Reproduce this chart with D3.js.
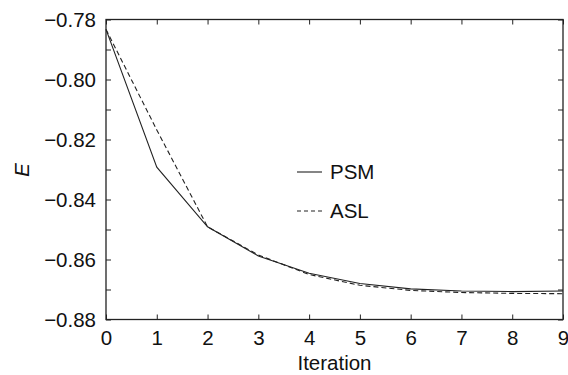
<!DOCTYPE html>
<html><head><meta charset="utf-8">
<script src="https://cdn.jsdelivr.net/npm/d3@7"></script>
<style>body{margin:0;background:#fff}svg{display:block}</style>
</head><body>
<svg id="c" width="568" height="375"></svg>
<script>
const iterations = [0,1,2,3,4,5,6,7,8,9];
const psm = [-0.7833,-0.8292,-0.8491,-0.8588,-0.8646,-0.8680,-0.8698,-0.8705,-0.8707,-0.8705];
const asl = [-0.7833,-0.8168,-0.8491,-0.8585,-0.8650,-0.8686,-0.8703,-0.8710,-0.8713,-0.8714];
const yTicks = [-0.88,-0.87,-0.86,-0.85,-0.84,-0.83,-0.82,-0.81,-0.80,-0.79,-0.78];
const yLabels = [-0.88,-0.86,-0.84,-0.82,-0.80,-0.78];
const seriesNames = ["PSM","ASL"];

const svg = d3.select("#c");
const m = {l:106,t:19.5,r:563,b:319.5};
const x = d3.scaleLinear().domain([0,9]).range([m.l,m.r]);
const y = d3.scaleLinear().domain([-0.88,-0.78]).range([m.b,m.t]);
const font = "'Liberation Sans', Arial, Helvetica, sans-serif";
const fs = 20.5;
const fmt = d => (d<0?"\u2212":"") + Math.abs(d).toFixed(2);

const tl = 5;
const axB = d3.axisBottom(x).tickValues(iterations).tickSize(-tl).tickPadding(11).tickFormat(d3.format("d"));
const axT = d3.axisTop(x).tickValues(iterations).tickSize(-tl).tickFormat("");
const axL = d3.axisLeft(y).tickValues(yTicks).tickSize(-tl).tickPadding(10)
  .tickFormat(d => yLabels.some(v=>Math.abs(v-d)<1e-9) ? fmt(d) : "");
const axR = d3.axisRight(y).tickValues(yTicks).tickSize(-tl).tickFormat("");

function style(g){
  g.select(".domain").remove();
  g.selectAll("line").attr("stroke","#222").attr("stroke-width",1);
  g.selectAll("text").attr("font-family",font).attr("font-size",fs).attr("fill","#111");
}
svg.append("g").attr("transform",`translate(0,${m.b})`).call(axB).call(style);
svg.append("g").attr("transform",`translate(0,${m.t})`).call(axT).call(style);
svg.append("g").attr("transform",`translate(${m.l},0)`).call(axL).call(style);
svg.append("g").attr("transform",`translate(${m.r},0)`).call(axR).call(style);

svg.append("rect").attr("x",m.l).attr("y",m.t).attr("width",m.r-m.l).attr("height",m.b-m.t)
  .attr("fill","none").attr("stroke","#222").attr("stroke-width",1.3);

const line = d3.line().x((d,i)=>x(iterations[i])).y(d=>y(d));
svg.append("path").datum(asl).attr("d",line).attr("fill","none").attr("stroke","#222")
  .attr("stroke-width",1.1).attr("stroke-dasharray","5,3");
svg.append("path").datum(psm).attr("d",line).attr("fill","none").attr("stroke","#222")
  .attr("stroke-width",1.1);

const leg = svg.append("g");
const legY = [172,211];
seriesNames.forEach((n,i)=>{
  leg.append("line").attr("x1",297).attr("x2",322).attr("y1",legY[i]).attr("y2",legY[i])
    .attr("stroke","#222").attr("stroke-width",1.1).attr("stroke-dasharray",i?"4,3":null);
  leg.append("text").attr("x",330).attr("y",legY[i]).attr("dy","0.35em").text(n)
    .attr("font-family",font).attr("font-size",fs).attr("fill","#111");
});

svg.append("text").attr("x",(m.l+m.r)/2).attr("y",370).attr("text-anchor","middle")
  .attr("font-family",font).attr("font-size",fs).attr("fill","#111").text("Iteration");
svg.append("text").attr("transform","translate(29,170) rotate(-90)").attr("text-anchor","middle")
  .attr("font-family",font).attr("font-size",fs).attr("font-style","italic").attr("fill","#111").text("E");
</script>
</body></html>
